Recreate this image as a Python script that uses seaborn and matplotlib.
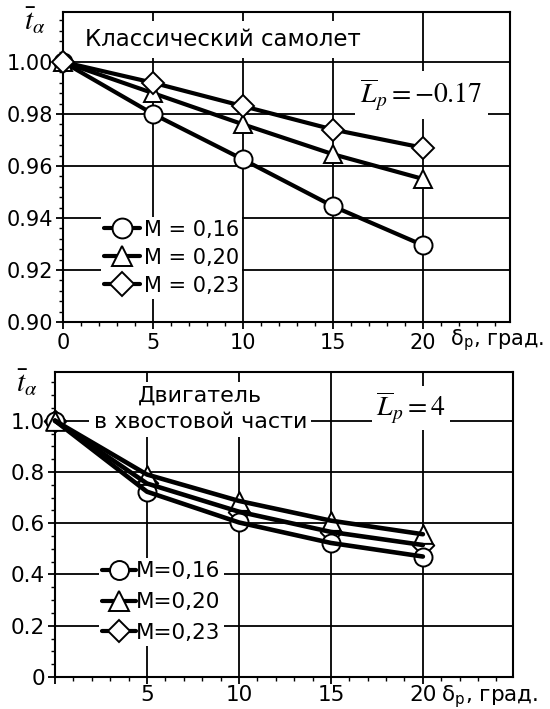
import matplotlib
matplotlib.use("Agg")
import matplotlib.pyplot as plt
import seaborn as sns
from matplotlib.ticker import MultipleLocator, FixedLocator, FixedFormatter
from matplotlib.lines import Line2D

# ---------------- data ----------------
delta = [0, 5, 10, 15, 20]

top_m016 = [1.000, 0.980, 0.9625, 0.9445, 0.9295]
top_m020 = [1.000, 0.988, 0.976, 0.9645, 0.955]
top_m023 = [1.000, 0.992, 0.983, 0.974, 0.967]

bot_m016 = [1.0, 0.723, 0.603, 0.523, 0.470]
bot_m020 = [1.0, 0.790, 0.687, 0.610, 0.557]
bot_m023 = [1.0, 0.755, 0.645, 0.566, 0.515]

labels_top = ["M = 0,16", "M = 0,20", "M = 0,23"]
labels_bot = ["M=0,16", "M=0,20", "M=0,23"]
markers = ["o", "^", "D"]

top_yticks = [0.90, 0.92, 0.94, 0.96, 0.98, 1.00]
top_yticklabels = ["0.90", "0.92", "0.94", "0.96", "0.98", "1.00"]
top_xticks = [0, 5, 10, 15, 20]
top_xticklabels = ["0", "5", "10", "15", "20"]
bot_yticks = [0, 0.2, 0.4, 0.6, 0.8, 1.0]
bot_yticklabels = ["0", "0.2", "0.4", "0.6", "0.8", "1.0"]
bot_xticks = [0, 5, 10, 15, 20]
bot_xticklabels = ["", "5", "10", "15", "20"]

# ---------------- style ----------------
sns.set_style("white")
plt.rcParams["font.family"] = ["DejaVu Sans"]
plt.rcParams["mathtext.fontset"] = "stix"
for k in ["text.color", "axes.labelcolor", "xtick.color", "ytick.color",
          "axes.edgecolor"]:
    plt.rcParams[k] = "black"

fig = plt.figure(figsize=(5.5, 7.09), dpi=100)
ax1 = fig.add_axes([63 / 550, (709 - 322) / 709, 447 / 550, 310 / 709])
ax2 = fig.add_axes([55 / 550, 32 / 709, 458 / 550, 305 / 709])


def style_axes(ax, xlim, ylim, xt, xtl, yt, ytl, yminor, fs, xpad):
    ax.set_xlim(*xlim)
    ax.set_ylim(*ylim)
    ax.xaxis.set_major_locator(FixedLocator(xt))
    ax.xaxis.set_major_formatter(FixedFormatter(xtl))
    ax.yaxis.set_major_locator(FixedLocator(yt))
    ax.yaxis.set_major_formatter(FixedFormatter(ytl))
    ax.xaxis.set_minor_locator(MultipleLocator(1))
    ax.yaxis.set_minor_locator(MultipleLocator(yminor))
    ax.tick_params(which="both", direction="out", left=True, bottom=True,
                   top=False, right=False, colors="black", labelcolor="black")
    ax.tick_params(which="major", length=5, width=1.3, labelsize=fs, pad=2)
    ax.tick_params(axis="x", which="major", pad=xpad)
    ax.tick_params(which="minor", length=3, width=1.0)
    ax.grid(True, which="major", color="black", lw=1.3)
    ax.set_axisbelow(True)
    for s in ax.spines.values():
        s.set_visible(True)
        s.set_color("black")
        s.set_linewidth(1.5)
    ax.set_xlabel("")
    ax.set_ylabel("")


def msize(m):
    return 11 if m == "D" else (13.5 if m == "^" else 13)


# ---------------- top panel ----------------
for yv, m in zip([top_m016, top_m020, top_m023], markers):
    sns.lineplot(x=delta, y=yv, ax=ax1, color="black", lw=3.0, marker=m,
                 markersize=msize(m), markerfacecolor="white",
                 markeredgecolor="black", markeredgewidth=1.4, clip_on=False,
                 zorder=4)

style_axes(ax1, (0, 24.83), (0.90, 1.0192), top_xticks, top_xticklabels,
           top_yticks, top_yticklabels, 0.004, 15, 3)

handles = [Line2D([], [], color="black", lw=3.0, marker=m, markersize=msize(m),
                  markerfacecolor="white", markeredgecolor="black",
                  markeredgewidth=1.4) for m in markers]
leg = ax1.legend(handles, labels_top, loc="upper left", bbox_to_anchor=(0.085, 0.34),
                 frameon=True, framealpha=1, edgecolor="none", facecolor="white",
                 fontsize=15, handlelength=1.7, handletextpad=0.2,
                 labelspacing=0.38, borderpad=0.15, borderaxespad=0, markerscale=1.1)
leg.get_frame().set_boxstyle("square", pad=0)
leg.set_zorder(6)

ax1.text(8.9, 1.0085, "Классический самолет", fontsize=16.5, ha="center",
         va="center", zorder=5, bbox=dict(facecolor="white", edgecolor="none", pad=5))
ax1.text(19.9, 0.9873, r"$\overline{L}_p = -0.17$", fontsize=20, ha="center",
         va="center", zorder=5, bbox=dict(facecolor="white", edgecolor="none", pad=4))
ax1.text(-0.062, 0.972, r"$\bar{t}_{\alpha}$", transform=ax1.transAxes, fontsize=21,
         ha="center", va="center")
ax1.annotate(r"δ$_\mathregular{p}$, град.", xy=(21.5, -0.058),
             xycoords=("data", "axes fraction"), fontsize=15, ha="left",
             va="center", annotation_clip=False)

# ---------------- bottom panel ----------------
for yv, m in zip([bot_m023, bot_m016, bot_m020], ["D", "o", "^"]):
    sns.scatterplot(x=delta, y=yv, ax=ax2, marker=m, s=msize(m) ** 2, color="white",
                    edgecolor="black", linewidth=1.4, clip_on=False, zorder=3)
for yv in [bot_m016, bot_m020, bot_m023]:
    sns.lineplot(x=delta, y=yv, ax=ax2, color="black", lw=3.3, clip_on=False,
                 zorder=4)

style_axes(ax2, (0, 24.9), (0, 1.19), bot_xticks, bot_xticklabels,
           bot_yticks, bot_yticklabels, 0.05, 15.5, 1)

handles2 = [Line2D([], [], color="black", lw=3.0, marker=m, markersize=msize(m),
                   markerfacecolor="white", markeredgecolor="black",
                   markeredgewidth=1.4) for m in markers]
leg2 = ax2.legend(handles2, labels_bot, loc="upper left", bbox_to_anchor=(0.095, 0.39),
                  frameon=True, framealpha=1, edgecolor="none", facecolor="white",
                  fontsize=15.5, handlelength=1.6, handletextpad=0.0,
                  labelspacing=0.5, borderpad=0.15, borderaxespad=0, markerscale=1.05)
leg2.get_frame().set_boxstyle("square", pad=0)
leg2.set_zorder(6)

ax2.text(7.9, 1.045, "Двигатель\nв хвостовой части", fontsize=16, ha="center",
         va="center", multialignment="center", linespacing=1.4, zorder=5,
         bbox=dict(facecolor="white", edgecolor="none", pad=3))
ax2.text(19.35, 1.05, r"$\overline{L}_p = 4$", fontsize=20, ha="center",
         va="center", zorder=5, bbox=dict(facecolor="white", edgecolor="none", pad=3))
ax2.text(-0.062, 0.965, r"$\bar{t}_{\alpha}$", transform=ax2.transAxes, fontsize=21,
         ha="center", va="center")
ax2.annotate(r"δ$_\mathregular{p}$, град.", xy=(21.0, -0.066),
             xycoords=("data", "axes fraction"), fontsize=15.5, ha="left",
             va="center", annotation_clip=False)

fig.savefig("out.png", dpi=100)
